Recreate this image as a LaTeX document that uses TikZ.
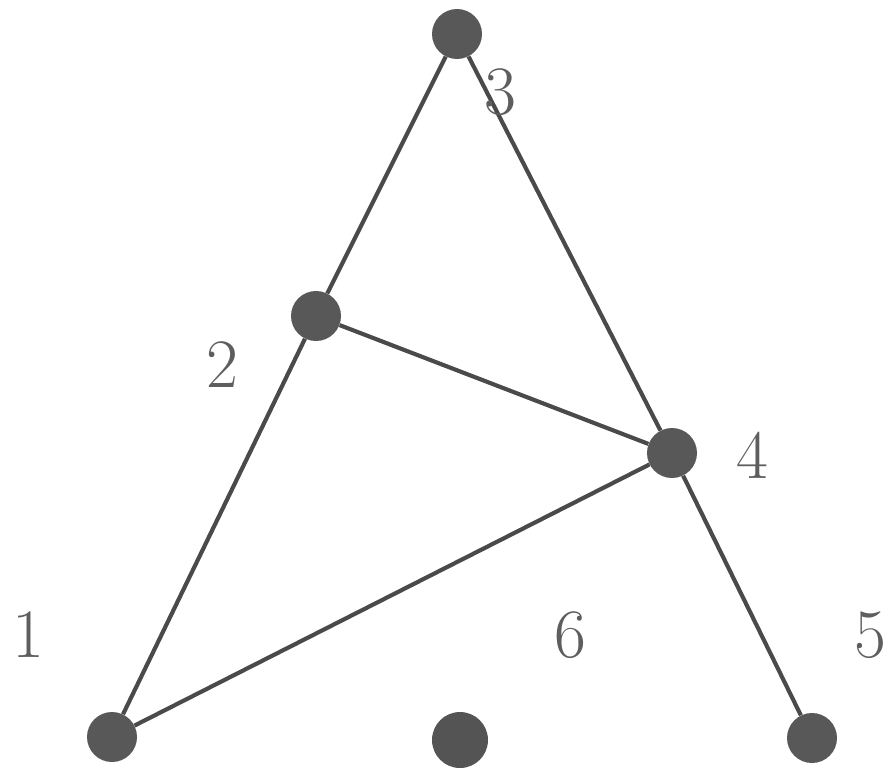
\documentclass[tikz,border=0pt]{standalone}
\usepackage[dvipsnames,svgnames,x11names]{xcolor}
\usepackage{tikz,amsmath,amssymb}
\usetikzlibrary{backgrounds, calc, positioning}

\definecolor{vertexgray}{HTML}{585858}
\definecolor{edgegray}{HTML}{4A4A4A}
\definecolor{labelgray}{HTML}{5E5E5E}

\begin{document}
\begin{tikzpicture}[x=0.75pt, y=-0.75pt,
        vertex/.style={circle, fill=vertexgray, inner sep=0pt, minimum size=37.5pt},
        bigvertex/.style={circle, fill=vertexgray!95!black, inner sep=0pt, minimum size=42pt},
        edge/.style={edgegray, line width=3.1pt},
        vlabel/.style={labelgray, font=\fontsize{52}{52}\selectfont},
    ]
    \useasboundingbox (0,0) rectangle (892,782);
    % vertices
    \node [vertex] (v3) at (457,34) {};
    \node [vertex] (v2) at (316,316) {};
    \node [vertex] (v4) at (672,453) {};
    \node [vertex] (v1) at (112,737) {};
    \node [bigvertex] (v6) at (460,740) {};
    \node [vertex] (v5) at (812,738) {};
    % labels
    \node [vlabel] (l3) at (500,92) {3};
    \node [vlabel] (l2) at (222,365) {2};
    \node [vlabel] (l4) at (752,455) {4};
    \node [vlabel] (l1) at (28,635) {1};
    \node [vlabel] (l6) at (570,635) {6};
    \node [vlabel] (l5) at (870,635) {5};
    % edges
    \begin{scope}[on background layer]
        \draw [edge] (v3) -- (v2);
        \draw [edge] (v3) -- (v4);
        \draw [edge] (v2) -- (v1);
        \draw [edge] (v2) -- (v4);
        \draw [edge] (v4) -- (v1);
        \draw [edge] (v4) -- (v5);
    \end{scope}
\end{tikzpicture}
\end{document}
